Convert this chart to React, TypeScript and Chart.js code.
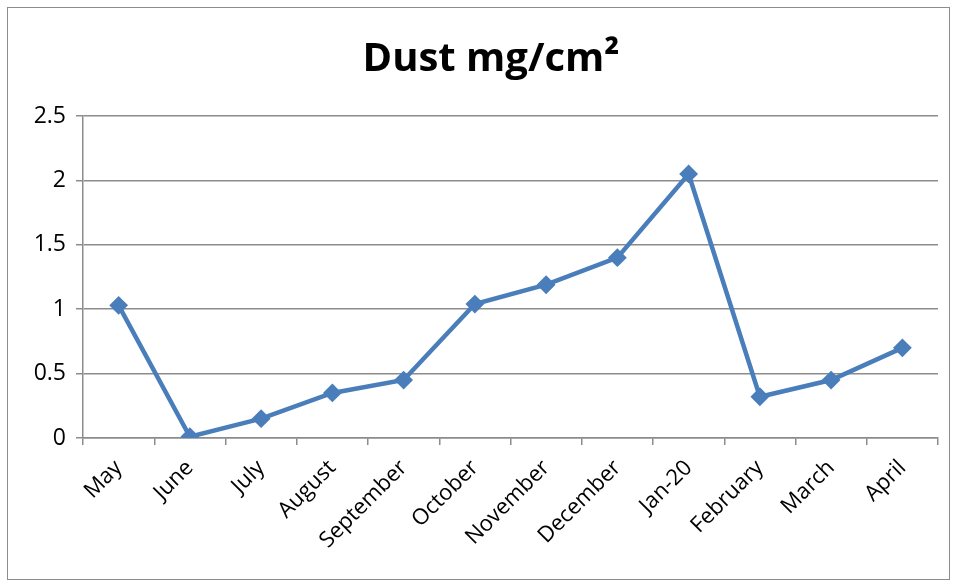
import React, { useEffect, useRef } from "react";
import { Chart, registerables } from "chart.js";

Chart.register(...registerables);

const TITLE = "Dust mg/cm²";
const CATEGORIES = ["May", "June", "July", "August", "September", "October", "November", "December", "Jan-20", "February", "March", "April"];
const DUST = [1.03, 0.01, 0.15, 0.35, 0.45, 1.04, 1.19, 1.4, 2.05, 0.32, 0.45, 0.7];
const Y_MIN = 0;
const Y_MAX = 2.5;
const Y_STEP = 0.5;

const titlePlugin = {
  id: "customTitle",
  afterDraw(chart: any) {
    const ctx = chart.ctx;
    ctx.save();
    ctx.font = "bold 40px 'Open Sans'";
    ctx.fillStyle = "#000";
    ctx.textAlign = "center";
    ctx.textBaseline = "alphabetic";
    ctx.fillText(TITLE, 491, 71);
    ctx.restore();
  },
};

export default function App() {
  const ref = useRef<HTMLCanvasElement>(null);
  useEffect(() => {
    if (!ref.current) return;
    const chart = new Chart(ref.current, {
      type: "line",
      data: {
        labels: CATEGORIES,
        datasets: [
          {
            data: DUST,
            borderColor: "#4A7EBB",
            backgroundColor: "#4A7EBB",
            borderWidth: 4.5,
            pointStyle: "rectRot",
            pointRadius: 8,
            pointBorderWidth: 2,
            pointBackgroundColor: "#4A7EBB",
            pointBorderColor: "#4A7EBB",
            tension: 0,
          },
        ],
      },
      options: {
        animation: false,
        responsive: false,
        maintainAspectRatio: false,
        layout: { padding: { top: 116, right: 20, left: 0, bottom: 0 } },
        plugins: { legend: { display: false }, title: { display: false }, tooltip: { enabled: false } },
        scales: {
          x: {
            offset: true,
            grid: {
              offset: true,
              drawOnChartArea: false,
              drawTicks: true,
              tickLength: 7,
              color: "#8c8c8c",
              lineWidth: 1.5,
            },
            border: { color: "#8c8c8c", width: 1.5 },
            ticks: {
              minRotation: 45,
              maxRotation: 45,
              padding: 10,
              color: "#000",
              font: { family: "'Open Sans'", size: 22 },
              autoSkip: false,
            },
            afterFit(scale: any) {
              scale.height = 143;
            },
          },
          y: {
            min: Y_MIN,
            max: Y_MAX,
            ticks: {
              stepSize: Y_STEP,
              padding: 10,
              color: "#000",
              font: { family: "'Open Sans'", size: 23 },
              callback: (v: any) => String(Number(v)),
            },
            grid: { color: "#8c8c8c", lineWidth: 1.5, tickLength: 7 },
            border: { color: "#8c8c8c", width: 1.5 },
            afterFit(scale: any) {
              scale.width = 83;
            },
          },
        },
      },
      plugins: [titlePlugin],
    });
    return () => chart.destroy();
  }, []);
  return (
    <div style={{ position: "fixed", left: 0, top: 0, width: 958, height: 581, background: "#fff" }}>
      <canvas ref={ref} width={958} height={581} style={{ position: "absolute", left: 0, top: 0 }} />
      <div
        style={{
          position: "absolute",
          left: 7,
          top: 7,
          width: 941,
          height: 571,
          border: "1.5px solid #8c8c8c",
          pointerEvents: "none",
        }}
      />
    </div>
  );
}
